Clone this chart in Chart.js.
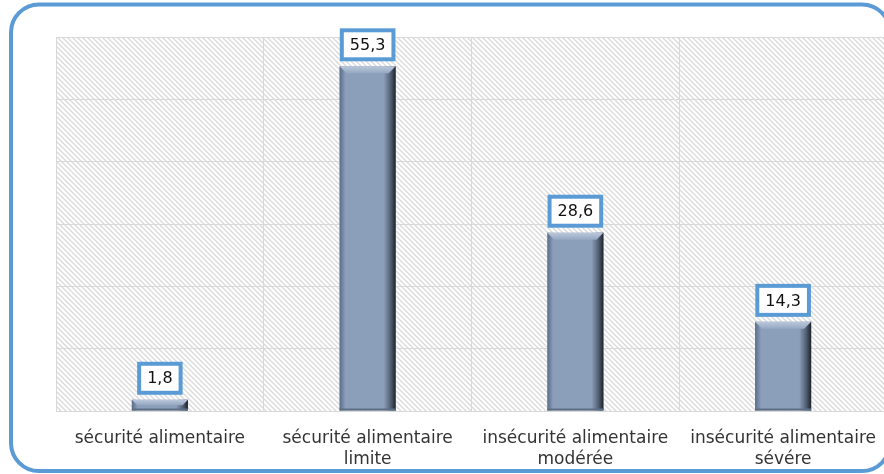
<!DOCTYPE html>
<html lang="fr">
<head>
  <meta charset="UTF-8">
  <title>Sécurité alimentaire</title>
  <script src="https://cdn.jsdelivr.net/npm/chart.js"></script>
  <style>
    html, body { margin: 0; padding: 0; background: #fff; overflow: hidden; }
    #wrap { width: 884px; height: 474px; overflow: hidden; position: relative; }
    canvas { display: block; }
  </style>
</head>
<body>
  <div id="wrap"><canvas id="chart" width="896" height="474"></canvas></div>

  <script>
    const categories = [
      ['sécurité alimentaire'],
      ['sécurité alimentaire', 'limite'],
      ['insécurité alimentaire', 'modérée'],
      ['insécurité alimentaire', 'sévére']
    ];
    const values = [1.8, 55.3, 28.6, 14.3];
    const labelTexts = ['1,8', '55,3', '28,6', '14,3'];

    const blue = '#5b9bd5';
    const fontFam = '"DejaVu Sans", Verdana, sans-serif';

    // diagonal hatch for the plot area
    function hatch() {
      const c = document.createElement('canvas');
      c.width = 5; c.height = 5;
      const g = c.getContext('2d');
      g.fillStyle = '#fff';
      g.fillRect(0, 0, 5, 5);
      g.strokeStyle = '#dadada';
      g.lineWidth = 1.4;
      g.beginPath();
      g.moveTo(-1, -1); g.lineTo(6, 6);
      g.moveTo(-6, -1); g.lineTo(1, 6);
      g.moveTo(4, -1); g.lineTo(11, 6);
      g.stroke();
      return c;
    }

    const framePlugin = {
      id: 'frame',
      beforeDraw(chart) {
        const ctx = chart.ctx;
        const a = chart.chartArea;
        ctx.save();
        ctx.fillStyle = '#fff';
        ctx.fillRect(0, 0, chart.width, chart.height);
        ctx.fillStyle = ctx.createPattern(hatch(), 'repeat');
        ctx.fillRect(a.left, a.top, a.right - a.left, a.bottom - a.top);
        // rounded outer border
        ctx.strokeStyle = blue;
        ctx.lineWidth = 4;
        ctx.beginPath();
        ctx.roundRect(11, 4.5, 879, 466.5, 28);
        ctx.stroke();
        ctx.restore();
      }
    };

    const bevelPlugin = {
      id: 'bevel',
      afterDatasetsDraw(chart) {
        const ctx = chart.ctx;
        const meta = chart.getDatasetMeta(0);
        ctx.save();
        meta.data.forEach((bar, i) => {
          const w = bar.width;
          const l = bar.x - w / 2, r = bar.x + w / 2;
          const t = bar.y, b = bar.base;
          const h = b - t;
          const bv = Math.min(7, h / 2);
          // right shading
          let g = ctx.createLinearGradient(r - 12, 0, r, 0);
          g.addColorStop(0, 'rgba(40,50,64,0)');
          g.addColorStop(0.6, 'rgba(40,50,64,0.6)');
          g.addColorStop(1, 'rgba(25,32,42,1)');
          ctx.fillStyle = g;
          ctx.fillRect(r - 12, t, 12, h);
          // left shading
          g = ctx.createLinearGradient(l, 0, l + 6, 0);
          g.addColorStop(0, 'rgba(70,88,115,0.7)');
          g.addColorStop(1, 'rgba(70,88,115,0)');
          ctx.fillStyle = g;
          ctx.fillRect(l, t, 6, h);
          // top bevel
          g = ctx.createLinearGradient(0, t, 0, t + bv);
          g.addColorStop(0, '#b9c7da');
          g.addColorStop(1, '#95a8c2');
          ctx.fillStyle = g;
          ctx.beginPath();
          ctx.moveTo(l, t); ctx.lineTo(r, t); ctx.lineTo(r - bv, t + bv); ctx.lineTo(l + bv, t + bv);
          ctx.closePath(); ctx.fill();
          // bottom edge
          ctx.fillStyle = '#5d6e85';
          ctx.fillRect(l, b - 2, w, 2);

          // value label box
          ctx.font = '16px ' + fontFam;
          const tw = ctx.measureText(labelTexts[i]).width;
          const bw = tw + 16, bh = 29;
          const bx = bar.x - bw / 2, by = t - 7 - bh;
          ctx.fillStyle = '#fff';
          ctx.fillRect(bx, by, bw, bh);
          ctx.strokeStyle = blue;
          ctx.lineWidth = 4;
          ctx.strokeRect(bx, by, bw, bh);
          ctx.fillStyle = '#111';
          ctx.textAlign = 'center';
          ctx.textBaseline = 'middle';
          ctx.fillText(labelTexts[i], bar.x, by + bh / 2 + 1);
        });
        ctx.restore();
      }
    };

    new Chart(document.getElementById('chart'), {
      type: 'bar',
      data: {
        labels: categories,
        datasets: [{
          data: values,
          backgroundColor: '#8c9fba',
          borderWidth: 0,
          barPercentage: 0.54,
          categoryPercentage: 0.5
        }]
      },
      options: {
        responsive: false,
        animation: false,
        layout: { padding: { left: 56, top: 37, right: 9, bottom: 0 } },
        plugins: { legend: { display: false }, tooltip: { enabled: false } },
        scales: {
          x: {
            grid: { color: '#d9d9d9', offset: true, drawTicks: false },
            border: { color: '#d9d9d9' },
            ticks: {
              color: '#333',
              font: { family: fontFam, size: 17, lineHeight: 1.25 },
              padding: 17,
              maxRotation: 0,
              autoSkip: false
            },
            afterFit(scale) { scale.height = 63; }
          },
          y: {
            min: 0, max: 60,
            ticks: { display: false, stepSize: 10 },
            grid: { color: '#d9d9d9', drawTicks: false },
            border: { display: false }
          }
        }
      },
      plugins: [framePlugin, bevelPlugin]
    });
  </script>
</body>
</html>
